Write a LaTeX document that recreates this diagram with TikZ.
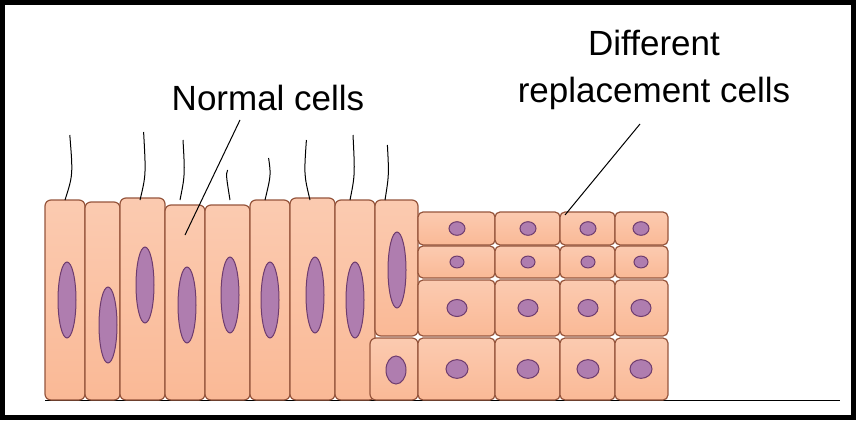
\documentclass[tikz,border=0pt]{standalone}
\usepackage{fontspec}
\setmainfont{Liberation Sans}
\begin{document}
\begin{tikzpicture}[x=1pt,y=-1pt]
\definecolor{cellf}{RGB}{250,185,150}
\definecolor{cellb}{RGB}{150,85,60}
\definecolor{nucf}{RGB}{175,125,175}
\definecolor{nucb}{RGB}{110,60,110}
\tikzset{cell/.style={draw=cellb,line width=1.2pt,top color=cellf!75!white,bottom color=cellf,rounded corners=6pt},
 nuc/.style={draw=nucb,line width=1pt,fill=nucf},
 cil/.style={draw=black,line width=1pt},
 lab/.style={font=\fontsize{35}{47}\selectfont,align=center,inner sep=0pt},
 lead/.style={draw=black,line width=1pt}}
\useasboundingbox (0,0) rectangle (856,420);
\fill[white] (0,0) rectangle (856,420);
\draw[line width=5pt] (2.5,2.5) rectangle (853.5,417.5);
\draw[line width=1pt] (45,400) -- (840,400);
\foreach \a/\b/\t/\nx/\ny in {45/85/200/67/300, 85/120/202/108/325, 120/165/198/145/285, 165/205/205/187/305, 205/250/205/230/295, 250/290/200/270/300, 290/335/198/315/295, 335/375/200/355/300}{
  \draw[cell] (\a,\t) rectangle (\b,400);
  \draw[nuc] (\nx,\ny) ellipse (9pt and 38pt);
}
\draw[cell] (375,200) rectangle (418,336);
\draw[nuc] (397,270) ellipse (9pt and 38pt);
\draw[cell] (370,338) rectangle (418,400);
\draw[nuc] (396,370) ellipse (10pt and 14pt);
\foreach \x/\h/\b in {65/135/8,140/132/6,180/140/5,230/170/-4,265/158/6,310/140/-6,350/135/5,385/145/4}{
  \draw[cil] (\x,200) .. controls (\x+\b,175) .. (\x+\b*0.6,\h);
}
\foreach \a/\b/\cx in {418/495/457, 495/560/528, 560/615/588, 615/668/641}{
  \foreach \t/\u/\r in {212/245/8, 246/278/7, 280/336/10, 338/400/11}{
    \draw[cell,rounded corners=5pt] (\a,\t) rectangle (\b,\u);
    \draw[nuc] (\cx,{(\t+\u)/2}) ellipse (\r pt and {\r*0.85pt});
  }
}
\node[lab] (nl) at (268,98) {Normal cells};
\coordinate (nt) at (185,235);
\draw[lead] (240,120) -- (nt);
\node[lab] (rl) at (654,70) {Different\\replacement cells};
\coordinate (rt) at (565,215);
\draw[lead] (640,124) -- (rt);
\end{tikzpicture}
\end{document}
